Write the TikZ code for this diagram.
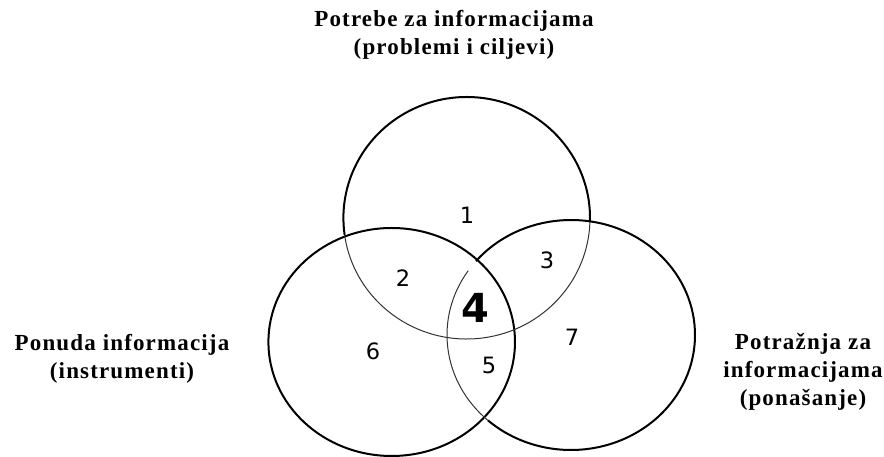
\documentclass[tikz,border=0pt]{standalone}
\usepackage{fontspec}
\newfontfamily\lblfont[LetterSpace=5]{Liberation Serif}
\newfontfamily\numfont{DejaVu Sans}
\begin{document}
\begin{tikzpicture}[x=1pt,y=1pt,
	outer/.style={line width=2pt},
	inner/.style={line width=1pt,black!80},
	num/.style={font=\numfont\fontsize{22.5}{26}\selectfont,inner sep=0pt},
	lbl/.style={font=\lblfont\bfseries\fontsize{23}{28}\selectfont,align=center,inner sep=0pt,anchor=base}]
	\useasboundingbox (0,0) rectangle (884,457);
	\coordinate (cT) at (466.7,239);
	\coordinate (cL) at (391.7,115);
	\coordinate (cR) at (571,122);
	% left circle, thick all round
	\draw[outer] (cL) ellipse [x radius=123.3, y radius=114];
	% top circle: thick outside, thin inside
	\draw[outer] (cT) ++(-2:123.3pt and 121pt) arc [start angle=-2, end angle=188, x radius=123.3, y radius=121];
	\draw[inner] (cT) ++(188:123.3pt and 121pt) arc [start angle=188, end angle=358, x radius=123.3, y radius=121];
	% right circle: thin where it runs inside the left one
	\draw[outer] (cR) ++(140:124pt and 115pt) arc [start angle=140, end angle=-132, x radius=124, y radius=115];
	\draw[inner] (cR) ++(146:124pt and 115pt) arc [start angle=146, end angle=228, x radius=124, y radius=115];
	% region numbers
	\node (n1) at (467,242) [num] {1};
	\node (n2) at (403,179) [num] {2};
	\node (n3) at (547,197) [num] {3};
	\node (n4) at (475,149) [num,font=\numfont\bfseries\fontsize{40}{44}\selectfont] {4};
	\node (n5) at (489,92) [num] {5};
	\node (n6) at (373,106) [num] {6};
	\node (n7) at (572,120) [num] {7};
	% circle labels (base = last line)
	\node (needs) at (454,402) [lbl] {Potrebe za informacijama\\(problemi i ciljevi)};
	\node (supply) at (122,78) [lbl] {Ponuda informacija\\(instrumenti)};
	\node (demand) at (803,51) [lbl] {Potražnja za\\informacijama\\(ponašanje)};
\end{tikzpicture}
\end{document}
